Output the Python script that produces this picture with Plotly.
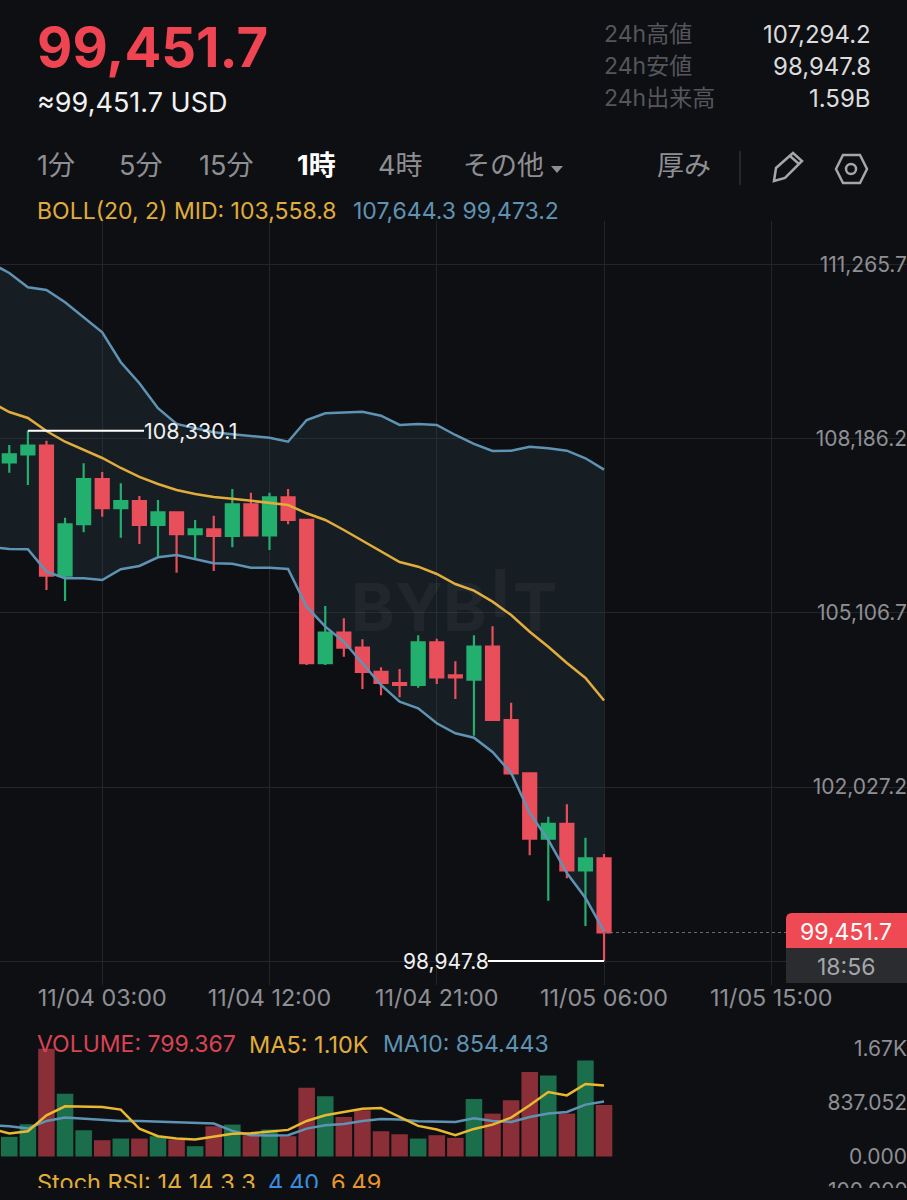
import pandas as pd
import plotly.graph_objects as go

W, H = 907, 1188
BG = "#0e0f13"
RED, GREEN = "#e94e5b", "#23b06f"
VRED, VGREEN = "#8a2f38", "#1b6e4c"
YEL, BLUE = "#e0ad3c", "#5f93b3"
GREY = "#8e8f94"
FONT = "Inter, 'Noto Sans CJK JP', sans-serif"

# candles, 1h, oldest first
candle_times = pd.date_range("2025-11-03 22:00", periods=33, freq="h")
line_times = pd.date_range("2025-11-03 21:00", periods=34, freq="h")
opens = [107774, 107915, 108068, 105767, 106677, 107478, 106960, 107089, 106664, 106889, 106500,
         106588, 106470, 107031, 106482, 107154, 106753, 104217, 104758, 104493, 104063, 103868,
         103833, 104588, 104004, 103926, 104510, 103213, 102270, 101112, 101373, 100553, 100766]
highs = [108080, 108330.1, 108156, 106793, 107756, 107602, 107402, 107178, 107107, 106889, 106753,
         106829, 107301, 107236, 107236, 107301, 106753, 105231, 105013, 104641, 104146, 104116,
         104712, 104652, 104252, 104712, 104871, 103519, 102270, 101502, 101721, 101130, 100842]
lows = [107590, 107372, 105514, 105319, 106535, 106811, 106439, 106328, 106103, 105820, 106075,
        105850, 106270, 106470, 106222, 106677, 104187, 104187, 104333, 103762, 103650, 103615,
        103785, 103850, 103585, 102935, 103213, 102240, 100819, 100015, 100412, 99567, 98947.8]
closes = [107915, 108068, 105767, 106677, 107478, 106960, 107089, 106664, 106889, 106500, 106588,
          106470, 107031, 106482, 107154, 106753, 104217, 104758, 104493, 104063, 103868, 103833,
          104588, 103969, 103969, 104510, 103213, 102270, 101112, 101373, 100553, 100766, 99451.7]

boll_upper = [111301, 111124, 110871, 110823, 110605, 110340, 110075, 109544, 109172, 108730, 108452,
              108376, 108305, 108269, 108239, 108209, 108138, 108522, 108641, 108652, 108669, 108599,
              108434, 108452, 108434, 108257, 108098, 107974, 107979, 108050, 108022, 107979, 107845, 107644.3]
boll_mid = [108841, 108664, 108558, 108328, 108138, 107992, 107850, 107673, 107514, 107390, 107284,
            107213, 107160, 107130, 107089, 107059, 107018, 106871, 106753, 106576, 106386, 106192,
            106009, 105926, 105797, 105620, 105502, 105307, 105071, 104776, 104510, 104222, 103956, 103558.8]
boll_lower = [106275, 106239, 106234, 105838, 105721, 105721, 105691, 105880, 105939, 106092, 106133,
              106062, 105986, 105979, 105908, 105908, 105885, 105218, 104864, 104599, 104217, 103833,
              103537, 103420, 103155, 102978, 102900, 102647, 102275, 101567, 101090, 100505, 100063, 99473.2]

volumes = [305, 501, 1675, 977, 408, 253, 279, 279, 315, 264, 160, 470, 496, 331, 419, 315, 1070, 936,
           615, 719, 393, 346, 279, 331, 290, 894, 667, 874, 1313, 1261, 667, 1494, 799.367]
vol_ma5 = [434, 357, 393, 641, 781, 781, 770, 729, 434, 315, 279, 264, 305, 352, 362, 393, 414, 553,
           641, 693, 744, 755, 615, 476, 419, 331, 429, 496, 605, 796, 1003, 951, 1127, 1106]
vol_ma10 = [486, 470, 434, 553, 605, 589, 564, 553, 553, 543, 533, 522, 512, 398, 331, 326, 331, 434,
            486, 507, 553, 584, 574, 548, 548, 538, 595, 553, 538, 615, 667, 693, 807, 854.443]

# the lowest tick's label sits behind the countdown tag, so only its gridline shows
price_ticks = [111265.7, 108186.2, 105106.7, 102027.2, 98947.8]
price_labels = ["111,265.7", "108,186.2", "105,106.7", "102,027.2", ""]
time_ticks = ["2025-11-04 03:00", "2025-11-04 12:00", "2025-11-04 21:00", "2025-11-05 06:00", "2025-11-05 15:00"]
time_labels = ["11/04 03:00", "11/04 12:00", "11/04 21:00", "11/05 06:00", "11/05 15:00"]
vol_ticks = [0, 837.052, 1674.104]
vol_labels = ["0.000", "837.052", "1.67K"]
LAST = 99451.7
HIGH = 108330.1
LOW = 98947.8

X_RANGE = ["2025-11-03 21:30", "2025-11-05 22:18"]
PRICE_RANGE = [98523, 112044]
VOL_RANGE = [-288, 1890]


def px(x):
    return x / W


def py(y):
    return 1 - y / H


fig = go.Figure()

# band fill on the base axis, below the candles
fig.add_trace(go.Scatter(x=line_times, y=boll_lower, mode="lines", line=dict(width=0), hoverinfo="skip",
                         xaxis="x", yaxis="y"))
fig.add_trace(go.Scatter(x=line_times, y=boll_upper, mode="lines", line=dict(width=0), fill="tonexty",
                         fillcolor="rgba(48,70,85,0.25)", hoverinfo="skip", xaxis="x", yaxis="y"))

fig.add_trace(go.Candlestick(x=candle_times, open=opens, high=highs, low=lows, close=closes,
                             xaxis="x", yaxis="y3", whiskerwidth=0,
                             increasing=dict(line=dict(color=GREEN, width=2.2), fillcolor=GREEN),
                             decreasing=dict(line=dict(color=RED, width=2.2), fillcolor=RED)))
for series, colour in [(boll_lower, BLUE), (boll_upper, BLUE), (boll_mid, YEL)]:
    fig.add_trace(go.Scatter(x=line_times, y=series, mode="lines", line=dict(color=colour, width=2.5),
                             xaxis="x", yaxis="y3"))

bar_colours = [VGREEN if c >= o else VRED for o, c in zip(opens, closes)]
fig.add_trace(go.Bar(x=candle_times, y=volumes, marker=dict(color=bar_colours, line=dict(width=0)),
                     xaxis="x2", yaxis="y2"))
fig.add_trace(go.Scatter(x=line_times, y=vol_ma10, mode="lines", line=dict(color=BLUE, width=2.5),
                         xaxis="x2", yaxis="y2"))
fig.add_trace(go.Scatter(x=line_times, y=vol_ma5, mode="lines", line=dict(color="#e8b931", width=2.5),
                         xaxis="x2", yaxis="y2"))

anns = []


def text(x, y, s, size, colour, anchor="left", bold=False, font=FONT):
    shift = {"left": -3, "right": 3, "center": 0}[anchor]
    anns.append(dict(x=px(x), y=py(y), xref="paper", yref="paper", text=f"<b>{s}</b>" if bold else s,
                     showarrow=False, xanchor=anchor, yanchor="middle", xshift=shift, yshift=0,
                     font=dict(size=size, color=colour, family=font)))


# header
text(38, 47, "99,451.7", 54.5, "#ef4452", bold=True)
text(38, 102, "≈99,451.7 USD", 27, "#f2f2f2")
for y, lab, val in [(34, "24h高値", "107,294.2"), (66, "24h安値", "98,947.8"), (98, "24h出来高", "1.59B")]:
    text(605, y, lab, 23, "#55565b")
    text(870, y, val, 24, "#dcdcdc", anchor="right")

# tab row
for x, lab in [(38, "1分"), (120, "5分"), (200, "15分"), (379, "4時"), (464, "その他"), (658, "厚み")]:
    text(x, 166, lab, 27, GREY)
text(298, 166, "1時", 27, "#ffffff", bold=True)

# legends
text(38, 211, "BOLL(20, 2) MID: 103,558.8", 23, YEL)
text(354, 211, "107,644.3 99,473.2", 23, BLUE)
text(38, 1044, "VOLUME: 799.367", 23, "#d94452")
text(250, 1044, "MA5: 1.10K", 23.5, YEL)
text(384, 1044, "MA10: 854.443", 23, BLUE)
text(38, 1182, "Stoch RSI: 14 14 3 3", 23.5, YEL)
text(269, 1182, "4.40", 23.5, "#3a8dde")
text(332, 1182, "6.49", 23.5, "#e8962e")
text(907, 1190, "100.000", 21, GREY, anchor="right")

# price tags
text(846, 932, "99,451.7", 23, "#ffffff", anchor="center")
text(846, 967, "18:56", 23, "#a5a6aa", anchor="center")

# watermark
WM = "rgba(255,255,255,0.045)"
text(486, 607, "BYB", 66, WM, anchor="right", bold=True)
text(500, 593, "I", 66, WM, anchor="center", bold=True)
text(514, 607, "T", 66, WM, anchor="left", bold=True)

# high / low labels, in data coordinates
anns.append(dict(x="2025-11-04 05:15", y=HIGH, xref="x", yref="y3", text="108,330.1", showarrow=False,
                 xanchor="left", yanchor="middle", xshift=-2, font=dict(size=21.5, color="#f0f0f0", family=FONT)))
anns.append(dict(x="2025-11-04 23:45", y=LOW, xref="x", yref="y3", text="98,947.8", showarrow=False,
                 xanchor="right", yanchor="middle", xshift=3, font=dict(size=21, color="#f0f0f0", family=FONT)))


def path(points, close=True):
    s = "M " + " L ".join(f"{px(a)},{py(b)}" for a, b in points)
    return s + (" Z" if close else "")


shapes = [
    dict(type="line", xref="x", yref="y3", x0="2025-11-03 23:00", x1="2025-11-04 05:15", y0=HIGH, y1=HIGH,
         line=dict(color="#ffffff", width=2)),
    dict(type="line", xref="x", yref="y3", x0="2025-11-04 23:45", x1="2025-11-05 06:00", y0=LOW, y1=LOW,
         line=dict(color="#ffffff", width=2)),
    dict(type="line", xref="paper", yref="y3", x0=px(604), x1=px(786), y0=LAST, y1=LAST,
         line=dict(color="#6a6b70", width=1, dash="3px,3px")),
    # price tag
    dict(type="path", xref="paper", yref="paper", fillcolor="#ef4a53", line=dict(width=0),
         path=f"M {px(786)},{py(948)} L {px(786)},{py(919)} Q {px(786)},{py(913)} {px(792)},{py(913)} "
              f"L {px(907)},{py(913)} L {px(907)},{py(948)} Z"),
    dict(type="rect", xref="paper", yref="paper", x0=px(786), x1=px(907), y0=py(983), y1=py(948),
         fillcolor="#2a2c30", line=dict(width=0)),
    # tab row: dropdown triangle, separator, icons
    dict(type="path", xref="paper", yref="paper", fillcolor=GREY, line=dict(width=0),
         path=path([(551, 166), (563, 166), (557, 173)])),
    dict(type="line", xref="paper", yref="paper", x0=px(740), x1=px(740), y0=py(151), y1=py(185),
         line=dict(color="#2f3035", width=1.5)),
    dict(type="path", xref="paper", yref="paper", line=dict(color="#a5a6aa", width=2.5),
         path=path([(774, 181), (776, 168), (793, 153), (802, 161), (785, 178)])),
    dict(type="path", xref="paper", yref="paper", line=dict(color="#a5a6aa", width=2.5),
         path=path([(790, 156), (799, 164)], close=False)),
    dict(type="path", xref="paper", yref="paper", line=dict(color="#a5a6aa", width=2.5),
         path=path([(836, 169), (843, 155), (860, 155), (867, 169), (860, 183), (843, 183)])),
    dict(type="circle", xref="paper", yref="paper", x0=px(846), x1=px(856), y0=py(174), y1=py(164),
         line=dict(color="#a5a6aa", width=2.5)),
]

GRID = "#23252a"
common_x = dict(type="date", range=X_RANGE, tickmode="array", showline=False, zeroline=False, ticks="")
fig.update_layout(
    width=W, height=H, margin=dict(l=0, r=0, t=0, b=0), paper_bgcolor=BG, plot_bgcolor=BG,
    showlegend=False, hovermode=False, boxmode="overlay", boxgap=0, bargap=0.11,
    annotations=anns, shapes=shapes, font=dict(family=FONT),
    xaxis=dict(common_x, domain=[0, 1], anchor="y", tickvals=time_ticks, ticktext=time_labels, showgrid=True,
               gridcolor=GRID, gridwidth=1, rangeslider=dict(visible=False), ticklabelstandoff=-3,
               tickfont=dict(size=23.3, color=GREY, family=FONT)),
    xaxis2=dict(common_x, domain=[0, 1], anchor="y2", showgrid=False, showticklabels=False, matches="x"),
    yaxis=dict(domain=[py(985), py(221)], range=PRICE_RANGE, side="right", anchor="x", tickmode="array",
               tickvals=price_ticks, ticktext=price_labels, ticklabelposition="inside", showgrid=True,
               gridcolor=GRID, gridwidth=1, zeroline=False, ticks="", showline=False, ticklabelstandoff=-3,
               tickfont=dict(size=21, color=GREY, family=FONT)),
    yaxis3=dict(range=PRICE_RANGE, overlaying="y", side="right", anchor="x", visible=False, showgrid=False,
                fixedrange=True),
    yaxis2=dict(domain=[py(1175), py(1035)], range=VOL_RANGE, side="right", anchor="x2", tickmode="array",
                tickvals=vol_ticks, ticktext=vol_labels, ticklabelposition="inside", showgrid=False,
                zeroline=False, ticks="", showline=False, ticklabelstandoff=-3,
                tickfont=dict(size=21, color=GREY, family=FONT)),
)

post = ("document.documentElement.style.background='%s';document.body.style.background='%s';"
        "document.body.style.margin='0';" % (BG, BG))
fig.write_html("out.html", post_script=post, config=dict(displayModeBar=False))
